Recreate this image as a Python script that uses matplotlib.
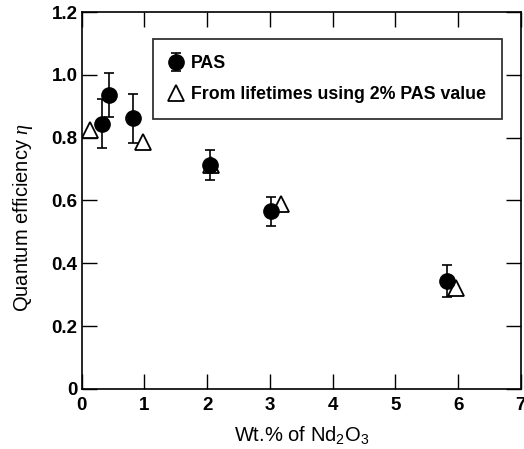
import matplotlib
matplotlib.use('Agg')
import matplotlib.pyplot as plt

plt.rcParams['font.family'] = ['Liberation Sans', 'DejaVu Sans']
plt.rcParams['mathtext.fontset'] = 'custom'
plt.rcParams['mathtext.rm'] = 'Liberation Sans'
plt.rcParams['mathtext.it'] = 'Liberation Serif:italic'

# PAS measurements
pas_x = [0.33, 0.43, 0.82, 2.04, 3.01, 5.82]
pas_y = [0.845, 0.935, 0.862, 0.712, 0.565, 0.343]
pas_err = [0.078, 0.07, 0.078, 0.048, 0.047, 0.052]

# from lifetimes using 2% PAS value
life_x = [0.13, 0.98, 2.06, 3.17, 5.96]
life_y = [0.823, 0.785, 0.712, 0.588, 0.322]

x_ticks = [0, 1, 2, 3, 4, 5, 6, 7]
y_ticks = [0, 0.2, 0.4, 0.6, 0.8, 1.0, 1.2]
y_tick_labels = ['0', '0.2', '0.4', '0.6', '0.8', '1.0', '1.2']

fig = plt.figure(figsize=(5.24, 4.49), dpi=100)
ax = fig.add_axes([0.156, 0.134, 0.838, 0.839])

ax.plot(life_x, life_y, linestyle='none', marker='^', markersize=11,
        markerfacecolor='white', markeredgecolor='black', markeredgewidth=1.3,
        label='From lifetimes using 2% PAS value', zorder=3)
ax.errorbar(pas_x, pas_y, yerr=pas_err, fmt='o', color='black', markersize=11,
            elinewidth=1.2, capsize=3.5, capthick=1.2, label='PAS', zorder=4)

ax.set_xlim(0, 7)
ax.set_ylim(0, 1.2)
ax.set_xticks(x_ticks)
ax.set_yticks(y_ticks)
ax.set_yticklabels(y_tick_labels)
ax.tick_params(direction='in', length=11, width=1, top=True, right=True,
               labelsize=13.5)
ax.tick_params(axis='x', pad=6)
ax.tick_params(axis='y', pad=3)
for lbl in ax.get_xticklabels() + ax.get_yticklabels():
    lbl.set_fontweight('bold')
for sp in ax.spines.values():
    sp.set_linewidth(1.2)

ax.set_xlabel('Wt.% of Nd$_2$O$_3$', fontsize=14.5, labelpad=7)
ax.set_ylabel('Quantum efficiency $\\eta$', fontsize=14.5)
ax.yaxis.set_label_coords(-0.107, 0.454)

handles, labels = ax.get_legend_handles_labels()
leg = ax.legend(handles[::-1], labels[::-1], loc='upper left',
                bbox_to_anchor=(0.162, 0.928), borderaxespad=0, fontsize=12.8,
                frameon=True, fancybox=False, edgecolor='black', handlelength=0.8,
                handletextpad=0.45, borderpad=0.9, labelspacing=0.8)
leg.get_frame().set_linewidth(1.3)
for t in leg.get_texts():
    t.set_fontweight('bold')

fig.savefig('out.png', dpi=100)
